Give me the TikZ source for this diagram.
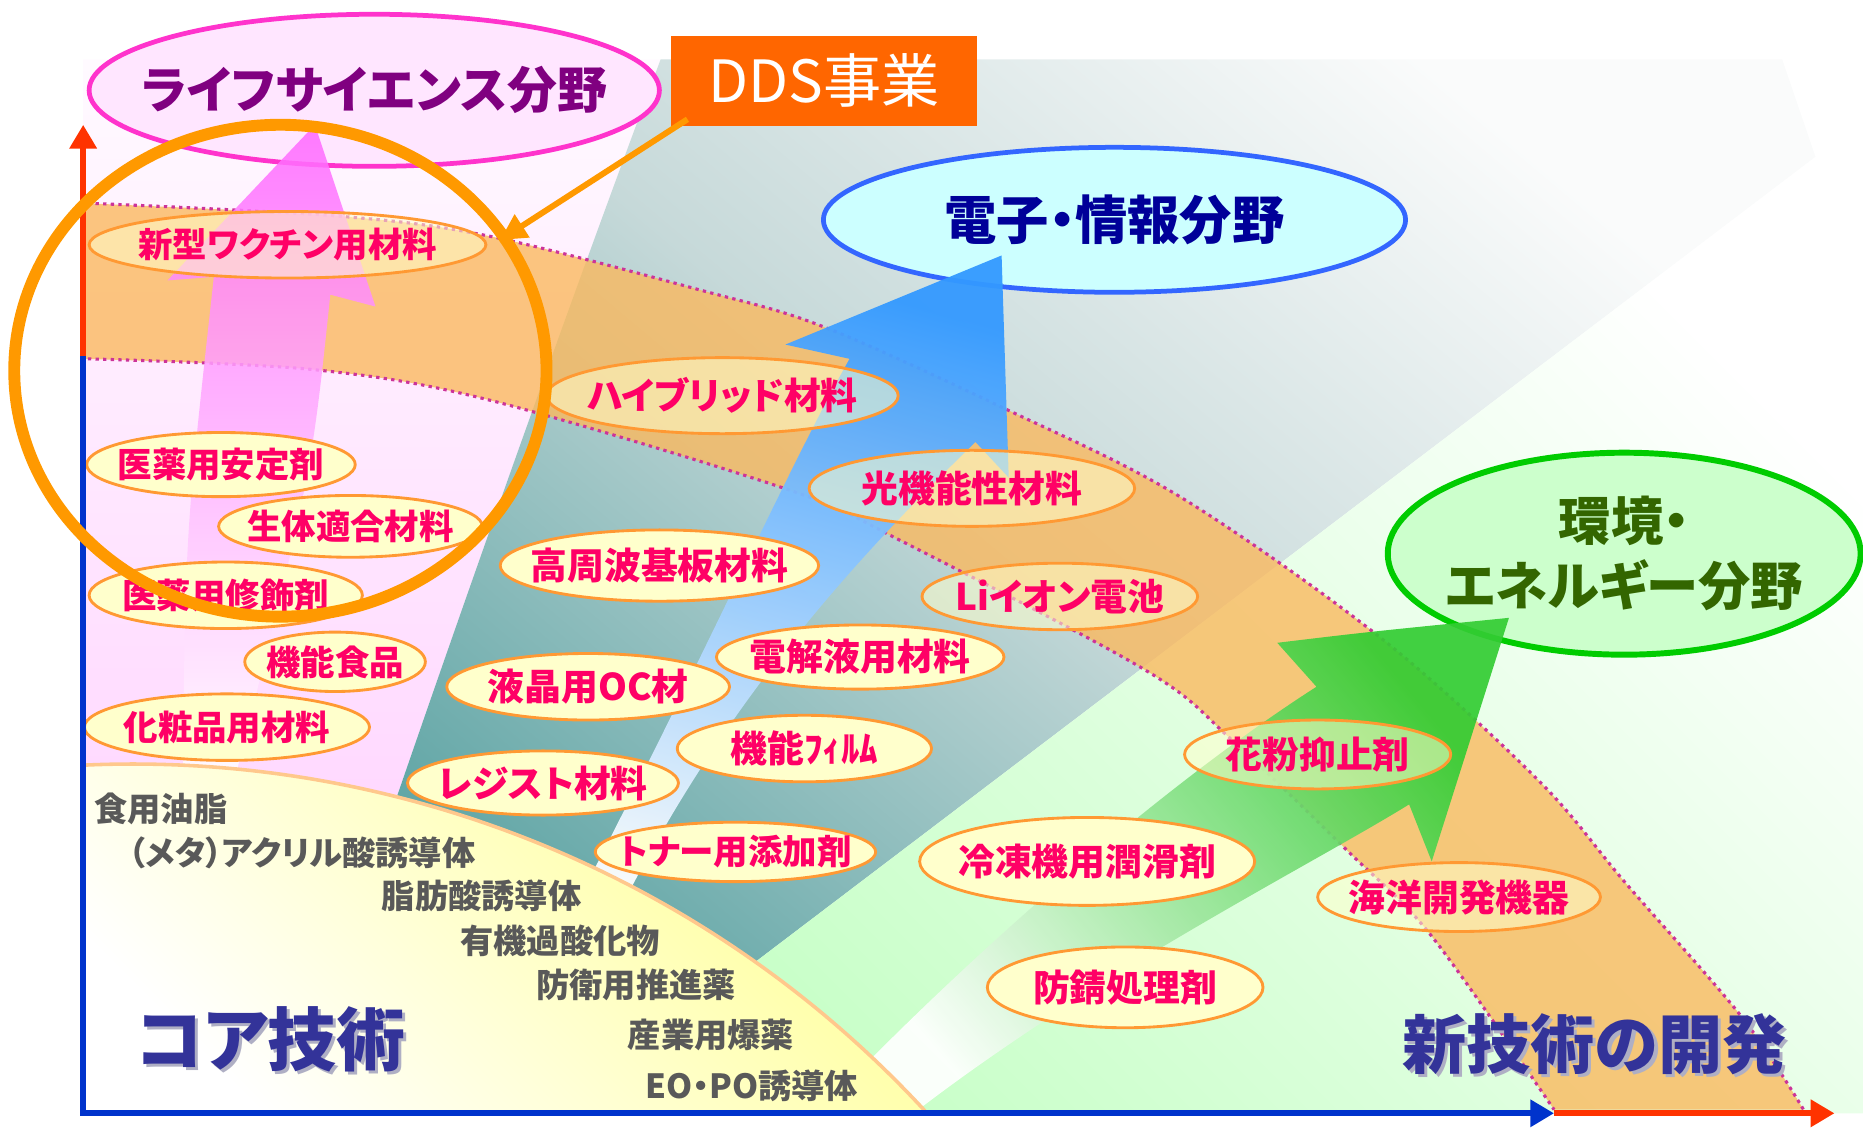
\documentclass[tikz,border=0pt]{standalone}
\usepackage{fontspec}
\setmainfont{Noto Sans CJK JP}[RawFeature=+palt]
\usetikzlibrary{shapes.geometric,arrows.meta,calc}
\definecolor{lblFill}{HTML}{FFFFCC}
\definecolor{lblLine}{HTML}{FF9933}
\definecolor{lblText}{HTML}{FF0066}
\definecolor{bandFill}{RGB}{250,185,95}
\definecolor{bandDot}{HTML}{CC3399}
\definecolor{tealDark}{RGB}{95,165,165}
\definecolor{tealMid}{RGB}{198,217,217}
\definecolor{tealLight}{RGB}{250,251,251}
\definecolor{pinkTop}{RGB}{255,250,255}
\definecolor{pinkBot}{RGB}{255,214,255}
\definecolor{greenBeam}{RGB}{200,255,200}
\definecolor{yellowCore}{RGB}{255,255,150}
\definecolor{coreEdge}{RGB}{255,200,140}
\definecolor{arrowPink}{RGB}{255,102,255}
\definecolor{arrowBlue}{RGB}{51,153,255}
\definecolor{arrowGreen}{RGB}{51,204,51}
\definecolor{ddsOrange}{HTML}{FF6600}
\definecolor{ringOrange}{HTML}{FF9900}
\definecolor{lifeText}{HTML}{800080}
\definecolor{lifeLine}{HTML}{FF33CC}
\definecolor{lifeFill}{HTML}{FFE6FF}
\definecolor{elecText}{HTML}{000099}
\definecolor{elecLine}{HTML}{3366FF}
\definecolor{elecFill}{HTML}{CCFFFF}
\definecolor{envText}{HTML}{336600}
\definecolor{envLine}{HTML}{00CC00}
\definecolor{envFill}{HTML}{CCFFCC}
\definecolor{titleText}{HTML}{333399}
\definecolor{titleShadow}{HTML}{AFAFC4}
\definecolor{coreItem}{HTML}{595959}
\definecolor{axisBlue}{HTML}{0033CC}
\definecolor{axisRed}{HTML}{FF3300}
\newcommand{\shadowtext}[1]{\makebox[0pt][l]{\hspace{1.3pt}\raisebox{-1.3pt}{\textcolor{titleShadow}{#1}}}#1}
\begin{document}
\begin{tikzpicture}[x=0.5pt,y=-0.5pt,
  lbl/.style={ellipse, draw=lblLine, line width=1.2pt, fill=lblFill, text=lblText,
    inner sep=-40pt, font=\bfseries\fontsize{15.5}{15.5}\selectfont},
  lblS/.style={lbl, font=\bfseries\fontsize{14.5}{14.5}\selectfont},
  semi/.style={fill opacity=0.55, text opacity=1},
  sz/.style 2 args={minimum width=#1pt, minimum height=#2pt},
  coreitem/.style={anchor=west, inner sep=0pt, text=coreItem,
    font=\bfseries\fontsize{14}{14}\selectfont},
  bandDots/.style={draw=bandDot, line width=1.3pt, dash pattern=on 1.4pt off 1.8pt},
  headtxt/.style={inner sep=0pt, text=titleText, font=\bfseries\fontsize{#1}{#1}\selectfont},
  field/.style={ellipse, inner sep=-40pt, align=center},
  axisline/.style={line width=2.5pt}
]
\useasboundingbox (0,0) rectangle (1568,949);

% ---------- background beams ----------
\shade[top color=pinkTop, bottom color=pinkBot]
  (70,50) -- (556,50) .. controls (500,200) and (420,420) .. (317,720) -- (70,720) -- cycle;
\shade[top color=tealLight, bottom color=tealDark, middle color=tealMid, shading angle=-40]
  (556,50) -- (1500,50) -- (1528,132) -- (468,937) -- (300,937)
  -- (317,720) .. controls (420,420) and (500,200) .. (556,50) -- cycle;
\shade[top color=white, bottom color=greenBeam, shading angle=-45]
  (1528,132) -- (1568,132) -- (1568,937) -- (468,937) -- cycle;

% ---------- orange band ----------
\fill[bandFill, opacity=0.8]
  plot[smooth, tension=0.55] coordinates {(70,171) (286,182) (413,199) (589,244) (693,275) (848,345) (993,418) (1161,536) (1295,657) (1368,743) (1466,856) (1518,934)}
  -- plot[smooth, tension=0.55] coordinates {(1308,934) (1205,788) (1134,716) (1037,623) (964,564) (758,455) (663,412) (413,337) (263,311) (70,302)}
  -- cycle;
\draw[bandDots] plot[smooth, tension=0.55] coordinates {(74,171) (286,182) (413,199) (589,244) (693,275) (848,345) (993,418) (1161,536) (1295,657) (1368,743) (1466,856) (1518,934)};
\draw[bandDots] plot[smooth, tension=0.55] coordinates {(74,302) (263,311) (413,337) (663,412) (758,455) (964,564) (1037,623) (1134,716) (1205,788) (1308,934)};

% ---------- field ellipses ----------
\node[field, draw=lifeLine, line width=2pt, fill=lifeFill, sz={240}{64}, text=lifeText,
  font=\bfseries\fontsize{21}{21}\selectfont] (life) at (315,76) {ライフサイエンス分野};
\node[field, draw=elecLine, line width=2pt, fill=elecFill, sz={245}{61}, text=elecText,
  font=\bfseries\fontsize{22}{22}\selectfont] (elec) at (938,185) {電子・情報分野};
\node[field, draw=envLine, line width=2.5pt, fill=envFill, sz={199}{85}, text=envText,
  font=\bfseries\fontsize{22}{27.5}\selectfont] (env) at (1367,466) {環境・\\エネルギー分野};

% ---------- arrows ----------
\shade[top color=arrowPink, bottom color=white, opacity=0.85]
  (154,650) .. controls (156,450) .. (180,233) -- (141,236) -- (265,105) -- (316,258)
  -- (278,248) .. controls (262,400) .. (199,650) -- cycle;
\shade[top color=arrowBlue, bottom color=white, shading angle=-15, opacity=0.95]
  (470,790) .. controls (590,560) and (660,400) .. (715,302) -- (661,290) -- (843,215)
  -- (849,402) -- (821,372) .. controls (720,470) and (600,600) .. (510,790) -- cycle;
\shade[top color=arrowGreen, bottom color=white, shading angle=-50, opacity=0.92]
  (700,925) .. controls (820,800) and (980,660) .. (1108,578) -- (1075,541)
  .. controls (1150,532) .. (1270,520)
  -- (1205,725) -- (1186,677) .. controls (1100,730) and (920,820) .. (765,940) -- cycle;

% ---------- core technology ----------
\shade[top color=yellowCore, bottom color=white, shading angle=-45]
  (70,937) -- (70,644) arc[start angle=-92.65, end angle=-42.7, radius=907] -- cycle;
\draw[coreEdge, line width=1.5pt] (70,644) arc[start angle=-92.65, end angle=-42.7, radius=907];

\node[coreitem] (c1) at (79,681) {食用油脂};
\node[coreitem] (c2) at (108,718) {（メタ）アクリル酸誘導体};
\node[coreitem] (c3) at (321,754) {脂肪酸誘導体};
\node[coreitem] (c4) at (387,792) {有機過酸化物};
\node[coreitem] (c5) at (451,829) {防衛用推進薬};
\node[coreitem] (c6) at (528,871) {産業用爆薬};
\node[coreitem] (c7) at (543,914) {EO・PO誘導体};

\node[headtxt=29] (core) at (228,876) {\shadowtext{コア技術}};
\node[headtxt=27] (newtech) at (1342,880) {\shadowtext{新技術の開発}};

% ---------- product ellipses ----------
\node[lblS, semi, sz={167}{28}] (vac) at (242,206) {新型ワクチン用材料};
\node[lblS, sz={113}{27}] (iyakuA) at (186,391) {医薬用安定剤};
\node[lblS, sz={111}{26}] (seitai) at (295,443) {生体適合材料};
\node[lblS, sz={115}{28}] (iyakuS) at (190,501) {医薬用修飾剤};
\node[lblS, sz={76}{25}] (kinoshoku) at (282,557) {機能食品};
\node[lblS, sz={120}{28}] (kesho) at (191,612) {化粧品用材料};
\node[lbl, semi, sz={148}{32}] (hybrid) at (608,333) {ハイブリッド材料};
\node[lbl, sz={134}{30}] (koshuha) at (555,476) {高周波基板材料};
\node[lbl, semi, sz={137}{32}] (hikari) at (818,411) {光機能性材料};
\node[lbl, semi, sz={116}{28}] (li) at (892,502) {Liイオン電池};
\node[lbl, sz={119}{28}] (ekisho) at (495,578) {液晶用OC材};
\node[lbl, sz={121}{27}] (denkai) at (724,553) {電解液用材料};
\node[lbl, sz={107}{28}] (film) at (677,630) {機能ﾌｨﾙﾑ};
\node[lbl, sz={114}{27}] (resist) at (457,659) {レジスト材料};
\node[lblS, sz={118}{25}] (toner) at (619,717) {トナー用添加剤};
\node[lbl, sz={141}{37}] (reito) at (915,725) {冷凍機用潤滑剤};
\node[lbl, sz={116}{34}] (bosei) at (947,831) {防錆処理剤};
\node[lbl, semi, sz={119}{29}] (kaiyo) at (1228,755) {海洋開発機器};
\node[lbl, semi, sz={112}{29}] (kafun) at (1109,635) {花粉抑止剤};

% ---------- axes ----------
\coordinate (O) at (70,937);
\coordinate (ymid) at (70,300);
\coordinate (ytip) at (70,105);
\coordinate (xmid) at (1308,937);
\coordinate (xtip) at (1544,937);
\draw[axisline, axisBlue] (O) -- (ymid);
\draw[axisline, axisRed, -{Triangle[length=10pt,width=11pt]}] (ymid) -- (ytip);
\draw[axisline, axisBlue, -{Triangle[length=10pt,width=11pt]}] ([xshift=-1.25pt]O) -- (xmid);
\draw[axisline, axisRed, -{Triangle[length=10pt,width=11pt]}] (xmid) -- (xtip);

% ---------- DDS ----------
\draw[ringOrange, line width=5pt] (236,312) ellipse [x radius=224, y radius=207];
\node[fill=ddsOrange, text=white, minimum width=128.5pt, minimum height=38pt, inner sep=0pt,
  font=\fontsize{24.5}{24.5}\selectfont] (dds) at (693.5,68) {DDS事業};
\coordinate (ddsTip) at (421,202);
\draw[ringOrange, line width=2.5pt, -{Triangle[length=11pt,width=11pt]}]
  ($(dds.south west)+(14,-6)$) -- (ddsTip);
\end{tikzpicture}
\end{document}
